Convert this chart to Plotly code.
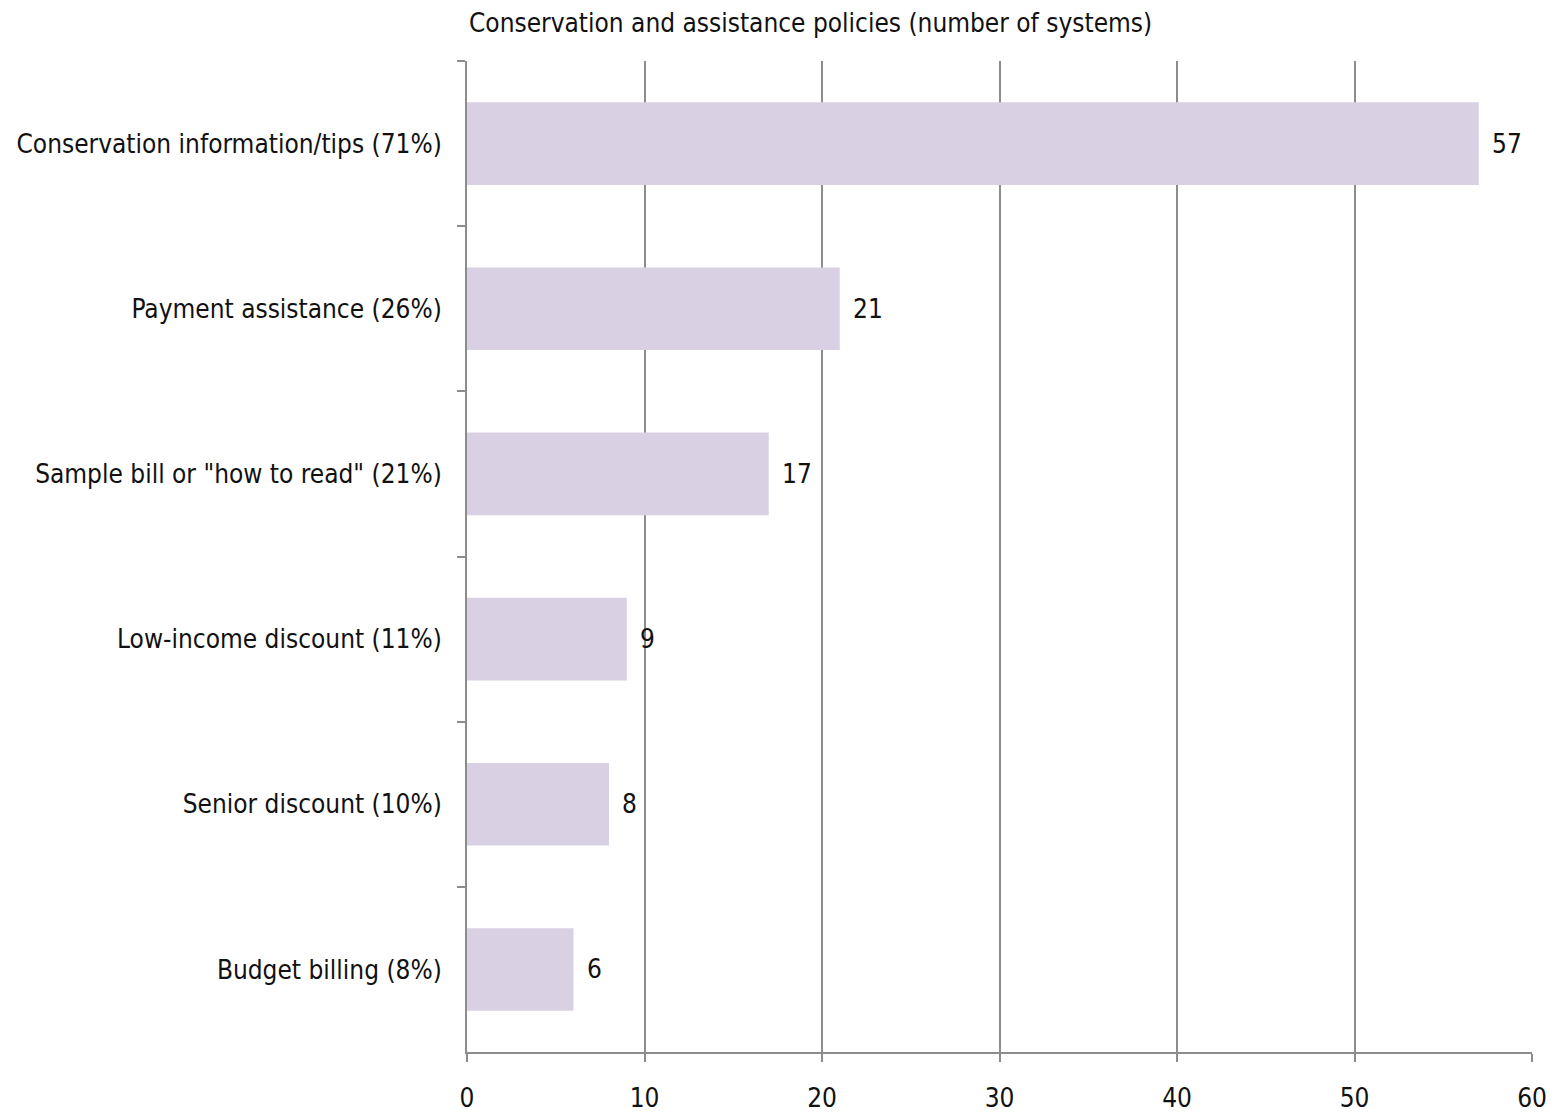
import plotly.graph_objects as go

categories = [
    "Conservation information/tips (71%)",
    "Payment assistance (26%)",
    "Sample bill or \"how to read\" (21%)",
    "Low-income discount (11%)",
    "Senior discount (10%)",
    "Budget billing (8%)",
]
values = [57, 21, 17, 9, 8, 6]
x_ticks = [0, 10, 20, 30, 40, 50, 60]
title_text = "Conservation and assistance policies (number of systems)"

FONT = "Liberation Sans Narrow, Arial Narrow, DejaVu Sans Condensed, sans-serif"
GRID = "#8c8c8c"
FS = 26

fig = go.Figure()
fig.add_trace(go.Bar(
    x=values,
    y=categories,
    orientation="h",
    width=0.5,
    marker=dict(color="#d9d0e3", line=dict(width=0)),
    hoverinfo="x+y",
))

for c, v in zip(categories, values):
    fig.add_annotation(
        x=v, y=c, xref="x", yref="y",
        text=str(v), showarrow=False,
        xanchor="left", yanchor="middle", xshift=11,
        font=dict(family=FONT, size=FS, color="#111111"),
    )

fig.add_annotation(
    x=0, y=1, xref="paper", yref="paper",
    text=title_text, showarrow=False,
    xanchor="left", yanchor="middle", yshift=38,
    font=dict(family=FONT, size=FS, color="#111111"),
)

fig.update_layout(
    width=1550, height=1107,
    margin=dict(l=459, r=26, t=53, b=63),
    paper_bgcolor="white",
    plot_bgcolor="white",
    showlegend=False,
    font=dict(family=FONT, size=FS, color="#111111"),
    xaxis=dict(
        range=[0, 60],
        tickvals=x_ticks,
        showgrid=True, gridcolor=GRID, gridwidth=1.5,
        showline=True, linecolor=GRID, linewidth=2,
        ticks="outside", ticklen=8, tickcolor=GRID, tickwidth=2,
        ticklabelstandoff=14,
        zeroline=False,
        automargin=False,
        tickfont=dict(family=FONT, size=FS, color="#111111"),
        fixedrange=True,
    ),
    yaxis=dict(
        type="category",
        categoryorder="array",
        categoryarray=categories,
        autorange="reversed",
        showgrid=False,
        showline=True, linecolor=GRID, linewidth=2,
        ticks="outside", ticklen=8, tickcolor=GRID, tickwidth=2,
        tickson="boundaries",
        ticklabelstandoff=18,
        automargin=False,
        tickfont=dict(family=FONT, size=FS, color="#111111"),
        fixedrange=True,
    ),
)

fig.write_html("out.html")
